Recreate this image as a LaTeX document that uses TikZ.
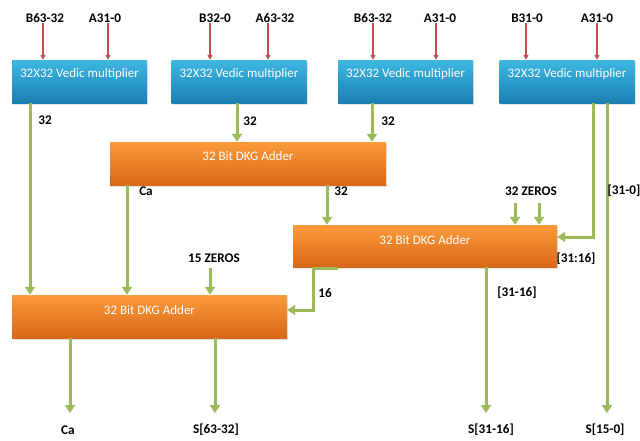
\documentclass[tikz,border=0pt]{standalone}
\usepackage{fontspec}
\setmainfont{Carlito}
\usetikzlibrary{arrows.meta,shadows}
\definecolor{gr}{HTML}{9BBB59}
\definecolor{rd}{HTML}{C0504D}
\definecolor{bltop}{HTML}{3DB8E2}
\definecolor{blbot}{HTML}{1B7FB1}
\definecolor{ortop}{HTML}{FB9A3A}
\definecolor{orbot}{HTML}{D8681A}
\newcommand{\boxtxt}[2]{\raisebox{#1}[0pt][0pt]{#2}}
\tikzset{
 box/.style={rectangle, minimum height=43pt, inner sep=0pt, text=white,
   font=\fontsize{13}{15}\selectfont,
   drop shadow={shadow xshift=1.2pt, shadow yshift=-2pt, opacity=0.22}},
 vedic/.style={box, top color=bltop, bottom color=blbot, minimum width=135pt},
 adder/.style={box, top color=ortop, bottom color=orbot},
 lbl/.style={font=\bfseries\fontsize{13.2}{15}\selectfont, inner sep=0pt},
 garr/.style={draw=gr, line width=3pt, -{Triangle[width=10pt,length=8pt]}},
 rarr/.style={draw=rd, line width=1.4pt, -{Triangle[width=5pt,length=5pt]}},
}
\begin{document}
\begin{tikzpicture}[x=1pt,y=-1pt]
\useasboundingbox[fill=white] (0,0) rectangle (640,440);
% multipliers
\node[vedic] (m1) at (79.5,81.5) {\boxtxt{4.2pt}{32X32 Vedic multiplier}};
\node[vedic] (m2) at (239,81.5) {\boxtxt{4.2pt}{32X32 Vedic multiplier}};
\node[vedic] (m3) at (405.5,81.5) {\boxtxt{4.2pt}{32X32 Vedic multiplier}};
\node[vedic] (m4) at (567,81.5) {\boxtxt{4.2pt}{32X32 Vedic multiplier}};
% adders
\node[adder, minimum width=276pt] (a1) at (248,163.5) {\boxtxt{2.6pt}{32 Bit DKG Adder}};
\node[adder, minimum width=264pt, minimum height=42pt] (a2) at (425,246) {\boxtxt{1.8pt}{32 Bit DKG Adder}};
\node[adder, minimum width=275pt] (a3) at (149.5,316.5) {\boxtxt{2.2pt}{32 Bit DKG Adder}};
% input labels
\node[lbl] (i1) at (45,18) {B63-32};
\node[lbl] (i2) at (105,18) {A31-0};
\node[lbl] (i3) at (215,18) {B32-0};
\node[lbl] (i4) at (275,18) {A63-32};
\node[lbl] (i5) at (373,18) {B63-32};
\node[lbl] (i6) at (440,18) {A31-0};
\node[lbl] (i7) at (527,18) {B31-0};
\node[lbl] (i8) at (597,18) {A31-0};
\coordinate (r1) at ([xshift=-2pt]i1.south);
\coordinate (r2) at ([xshift=3pt]i2.south);
\coordinate (r3) at ([xshift=-5pt]i3.south);
\coordinate (r4) at ([xshift=-7pt]i4.south);
\coordinate (r5) at (i5.south);
\coordinate (r6) at ([xshift=-4pt]i6.south);
\coordinate (r7) at ([xshift=-1pt]i7.south);
\coordinate (r8) at (i8.south);
\draw[rarr] (r1) -- (r1 |- m1.north);
\draw[rarr] (r2) -- (r2 |- m1.north);
\draw[rarr] (r3) -- (r3 |- m2.north);
\draw[rarr] (r4) -- (r4 |- m2.north);
\draw[rarr] (r5) -- (r5 |- m3.north);
\draw[rarr] (r6) -- (r6 |- m3.north);
\draw[rarr] (r7) -- (r7 |- m4.north);
\draw[rarr] (r8) -- (r8 |- m4.north);
% green connector x positions
\coordinate (g1) at (30,0);
\coordinate (g2) at (237,0);
\coordinate (g3) at (372,0);
\coordinate (g4) at (593,237);
\coordinate (g5) at (607,413);
\coordinate (g6) at (127,0);
\coordinate (g7) at (327,0);
\coordinate (z1) at (515,203);
\coordinate (z2) at (539,203);
\coordinate (g8) at (486,413);
\coordinate (h1) at (338,268.5);
\coordinate (h2) at (313,268.5);
\coordinate (h3) at (313,310);
\coordinate (z15) at (210,268);
\coordinate (g9) at (70,413);
\coordinate (g10) at (215,413);
% green connectors
\draw[garr] (m1.south -| g1) -- (a3.north -| g1);
\draw[garr] (m2.south -| g2) -- (a1.north -| g2);
\draw[garr] (m3.south -| g3) -- (a1.north -| g3);
\draw[garr] (m4.south -| g4) -- (g4) -- (g4 -| a2.east);
\draw[garr] (m4.south -| g5) -- (g5);
\draw[garr] (a1.south -| g6) -- (a3.north -| g6);
\draw[garr] (a1.south -| g7) -- (a2.north -| g7);
\draw[garr] (z1) -- (z1 |- a2.north);
\draw[garr] (z2) -- (z2 |- a2.north);
\draw[garr] (a2.south -| g8) -- (g8);
\draw[garr] (h1) -- (h2) -- (h3) -- (h3 -| a3.east);
\draw[garr] (z15) -- (z15 |- a3.north);
\draw[garr] (a3.south -| g9) -- (g9);
\draw[garr] (a3.south -| g10) -- (g10);
% connector labels
\node[lbl] (l1) at (45,120) {32};
\node[lbl] (l2) at (250,121) {32};
\node[lbl] (l3) at (388,121) {32};
\node[lbl] (l4) at (624,191) {[31-0]};
\node[lbl] (l5) at (146,191) {Ca};
\node[lbl] (l6) at (341,191) {32};
\node[lbl] (l7) at (531,191) {32 ZEROS};
\node[lbl] (l8) at (576,259) {[31:16]};
\node[lbl] (l9) at (214,258) {15 ZEROS};
\node[lbl] (l10) at (325,293) {16};
\node[lbl] (l11) at (517,293) {[31-16]};
\node[lbl] (o1) at (68,430) {Ca};
\node[lbl] (o2) at (216,430) {S[63-32]};
\node[lbl] (o3) at (491,430) {S[31-16]};
\node[lbl] (o4) at (605,430) {S[15-0]};
\end{tikzpicture}
\end{document}
